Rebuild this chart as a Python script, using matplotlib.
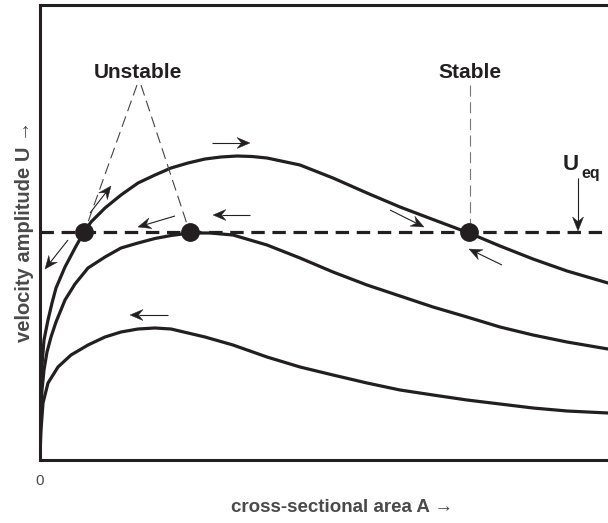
import matplotlib
matplotlib.use('Agg')
import numpy as np
from matplotlib import pyplot as plt
from matplotlib.patches import Polygon

plt.rcParams['font.family'] = ['Liberation Sans', 'DejaVu Sans']

ink = '#231f20'
label_grey = '#4a4a4a'

# three U(A) curves (arbitrary units)
A_top = [0, 0.5, 1, 2, 4, 8, 12, 16, 25, 35, 44, 51, 65, 81, 98, 115, 131, 148,
         165, 181, 197, 212, 227, 260, 293, 327, 360, 393, 429, 460, 493, 527, 568]
U_top = [5, 40, 70, 95, 120, 140, 157, 172, 193, 212, 228, 238, 252, 265, 277, 285,
         292, 297, 301, 303, 304, 303.5, 302, 295, 282, 267, 253, 240.5, 227, 214,
         201, 189, 177]

A_mid = [0, 0.5, 1, 2, 4, 7, 11, 16, 25, 35, 48, 65, 81, 98, 115, 131, 150, 170,
         193, 227, 260, 293, 327, 360, 393, 427, 460, 493, 527, 568]
U_mid = [5, 30, 50, 70, 90, 108, 123, 138, 160, 176, 192, 203, 212, 217, 221.5,
         224.5, 227, 227, 225, 215, 202, 188, 175, 164, 153, 143, 133, 125, 118, 111]

A_low = [0, 1, 3, 8, 18, 31, 48, 65, 81, 98, 115, 131, 148, 165, 193, 227, 260,
         293, 327, 360, 393, 427, 460, 493, 527, 568]
U_low = [5, 30, 57, 77, 93, 105, 115, 123, 128, 131, 132, 131, 127, 123, 115, 103,
         93, 85, 77, 70, 65, 60, 56, 52, 49, 47]

U_eq = 228
A_fixed = [44, 150, 429]   # unstable, unstable, stable

# direction arrows: (tail, head)
flow_arrows = [
    ((172, 317), (210, 317)),
    ((210, 245), (173, 245)),
    ((128, 145), (90, 145)),
    ((50, 247), (71, 274)),
    ((28, 220), (5, 191)),
    ((135, 244), (98, 233)),
    ((350, 250), (384, 233)),
    ((462, 195), (429, 211)),
]
ueq_arrow = ((538, 282), (538, 229))

unstable_pos = (98, 387)
stable_pos = (430, 387)

fig = plt.figure(figsize=(6.08, 5.23), dpi=100)
ax = fig.add_axes([40 / 608, 63 / 523, 568 / 608, 455 / 523])
ax.set_xlim(0, 568)
ax.set_ylim(0, 455)


def stealth(ax, tail, head, length=13, half=5.5, notch=4.5):
    # thin shaft plus a barbed head; axes units are one pixel in both directions
    t = np.array(tail, float)
    h = np.array(head, float)
    d = (h - t) / np.hypot(*(h - t))
    n = np.array([-d[1], d[0]])
    back = h - d * length
    inner = h - d * (length - notch)
    ax.plot([t[0], inner[0]], [t[1], inner[1]], color=ink, lw=0.8, solid_capstyle='butt')
    ax.add_patch(Polygon([h, back + n * half, inner, back - n * half], closed=True,
                         facecolor=ink, edgecolor=ink, lw=0.3, zorder=4))


for A, U in [(A_top, U_top), (A_mid, U_mid), (A_low, U_low)]:
    ax.plot(A, U, color=ink, lw=2.3, solid_joinstyle='round', solid_capstyle='round')

ax.axhline(U_eq, color=ink, lw=2.3, dashes=(4.2, 2.4))
ax.plot(A_fixed, [U_eq] * 3, 'o', color=ink, ms=12.5, zorder=5)

for tail, head in flow_arrows:
    stealth(ax, tail, head)
stealth(ax, *ueq_arrow, length=14)

# leader lines from the labels to the fixed points
ax.plot([unstable_pos[0] - 1, 48], [unstable_pos[1] - 12, 238], color='#444444', lw=0.8,
        dashes=(10, 5))
ax.plot([unstable_pos[0] + 3, 147], [unstable_pos[1] - 12, 236], color='#444444', lw=0.8,
        dashes=(10, 5))
ax.plot([stable_pos[0], stable_pos[0]], [stable_pos[1] - 12, 236], color='#777777', lw=0.8,
        dashes=(10, 5))

ax.text(*unstable_pos, 'Unstable', ha='center', va='center', fontsize=15,
        fontweight='bold', color=ink)
ax.text(*stable_pos, 'Stable', ha='center', va='center', fontsize=15,
        fontweight='bold', color=ink)
ax.text(523, 290, 'U', ha='left', va='baseline', fontsize=16, fontweight='bold', color=ink)
ax.text(541, 282, 'eq', ha='left', va='baseline', fontsize=11.5, fontweight='bold', color=ink)

for side in ['left', 'bottom', 'top']:
    ax.spines[side].set_linewidth(2.2)
    ax.spines[side].set_color(ink)
ax.spines['right'].set_visible(False)

ax.set_xticks([0])
ax.set_xticklabels(['0'])
ax.set_yticks([])
ax.tick_params(axis='x', length=0, pad=10, labelsize=11, labelcolor=label_grey)

fig.text(342 / 608, 1 - 508 / 523, 'cross-sectional area A \u2192', ha='center', va='center',
         fontsize=13.5, fontweight='bold', color=label_grey)
fig.text(25 / 608, 1 - 231 / 523, 'velocity amplitude U \u2192', ha='center', va='center',
         rotation=90, fontsize=14.5, fontweight='bold', color=label_grey)

fig.savefig('out.png', dpi=100)
